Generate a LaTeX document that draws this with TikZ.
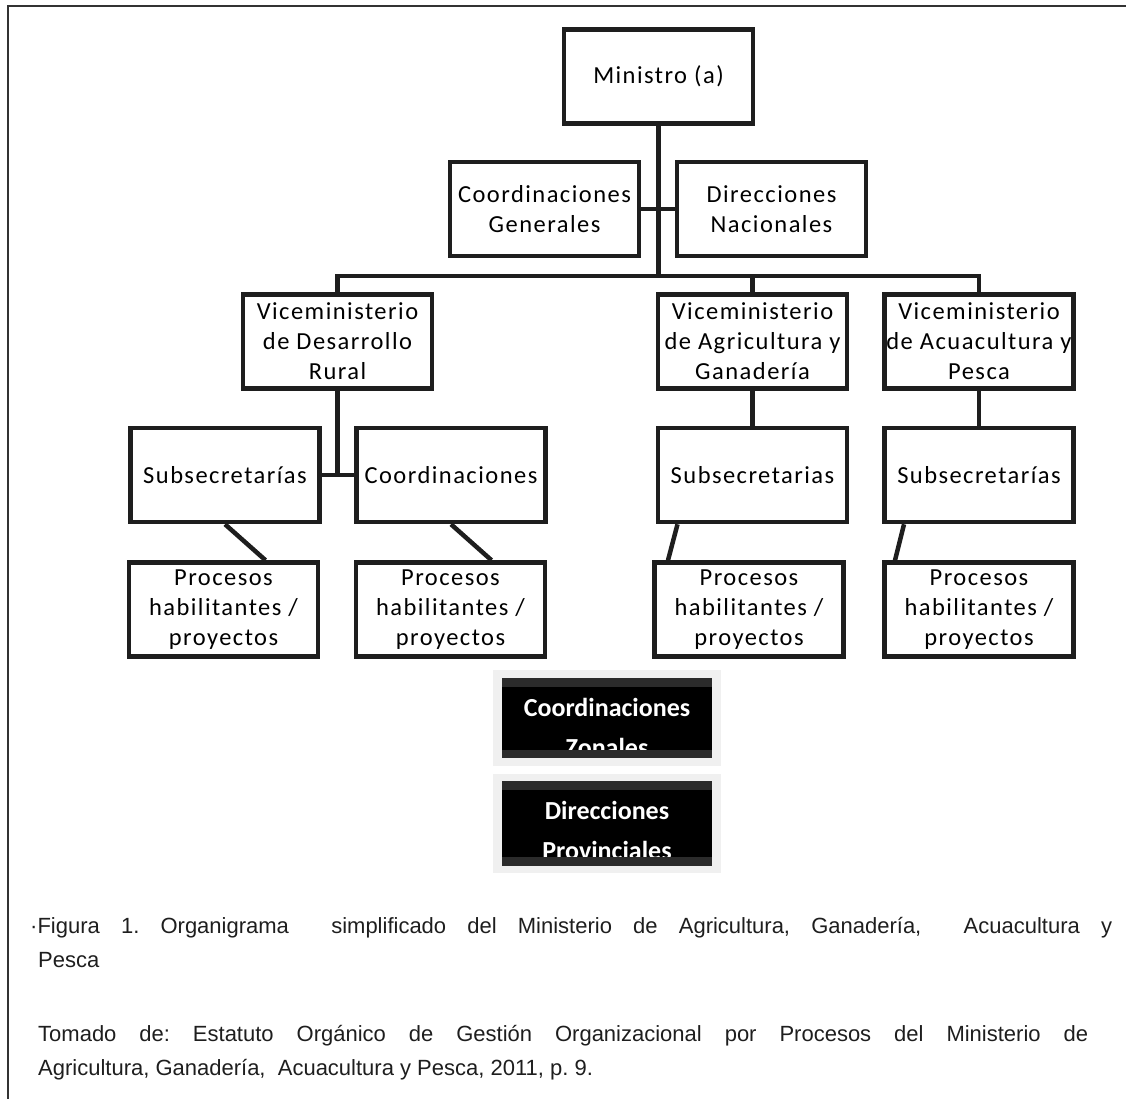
\documentclass[tikz,border=0pt]{standalone}
\usepackage{fontspec}
\setmainfont{Liberation Sans}
\newfontfamily\boxfont[LetterSpace=6]{Carlito}
\newfontfamily\zonefont{Carlito}
\newfontfamily\capfont{Liberation Sans}
\definecolor{ink}{HTML}{1E1E1E}
\definecolor{frameink}{HTML}{333333}
\definecolor{paleframe}{HTML}{F0F0F0}
\definecolor{band}{HTML}{2B2B2B}
\tikzset{
  unit/.style={draw=ink, line width=4.5pt, fill=white, minimum width=189pt,
    minimum height=94pt, inner sep=0pt, align=center,
    font=\boxfont\fontsize{24.5}{30}\selectfont},
  link/.style={draw=ink, line width=4.5pt},
  halo/.style={fill=paleframe, draw=none, minimum width=228pt, inner sep=0pt},
  slab/.style={fill=black, draw=none, minimum width=210pt, inner sep=0pt},
  zonetext/.style={text=white, align=center, inner sep=0pt,
    font=\zonefont\bfseries\fontsize{26}{40}\selectfont},
  captext/.style={anchor=base west, inner sep=0pt,
    font=\capfont\fontsize{22}{26}\selectfont\frenchspacing, text=ink}
}
\begin{document}
\begin{tikzpicture}[x=1pt,y=-1pt]
\useasboundingbox (0,0) rectangle (1126,1099);
% outer frame (open on the right and at the bottom)
\draw[frameink, line width=2.5pt] (1126,6) -- (8,6) -- (8,1099);

% top level
\node[unit] (min) at (658.5,76.5) {Ministro (a)};
\node[unit] (cg) at (544.5,209) {Coordinaciones\\Generales};
\node[unit] (dn) at (771.5,209) {Direcciones\\Nacionales};

% vice-ministries
\node[unit] (v1) at (337.5,341.5) {Viceministerio\\de Desarrollo\\Rural};
\node[unit] (v2) at (752.5,341.5) {Viceministerio\\de Agricultura y\\Ganadería};
\node[unit] (v3) at (979,341.5) {Viceministerio\\de Acuacultura y\\Pesca};

% under-secretariats
\node[unit] (s1) at (225,475) {Subsecretarías};
\node[unit] (c1) at (451,475) {Coordinaciones};
\node[unit] (s2) at (752.5,475) {Subsecretarias};
\node[unit] (s3) at (979,475) {Subsecretarías};

% processes
\node[unit] (p1) at (223.5,609.5) {Procesos\\habilitantes /\\proyectos};
\node[unit] (p2) at (450.5,609.5) {Procesos\\habilitantes /\\proyectos};
\node[unit] (p3) at (749,609.5) {Procesos\\habilitantes /\\proyectos};
\node[unit] (p4) at (979,609.5) {Procesos\\habilitantes /\\proyectos};

% connectors
\coordinate (bus) at (658.5,276);
\draw[link] (min.south) -- (bus);
\draw[link] (cg.east) -- (dn.west);
\draw[link] (v1.north) |- (bus) -| (v3.north);
\draw[link] (v2.north) -- (v2.north |- bus);
\draw[link] (v1.south) |- (s1.east);
\draw[link] (v1.south |- c1.west) -- (c1.west);
\draw[link] (v2.south) -- (s2.north);
\draw[link] (v3.south) -- (s3.north);
\draw[link] (s1.south) -- ([xshift=42pt]p1.north);
\draw[link] (c1.south) -- ([xshift=41pt]p2.north);
\draw[link] ([xshift=-75pt]s2.south) -- ([xshift=-81pt]p3.north);
\draw[link] ([xshift=-75pt]s3.south) -- ([xshift=-84pt]p4.north);

% dark labels
\node[halo, minimum height=96pt] (czh) at (607,718) {};
\node[slab, minimum height=80pt] (czb) at (607,718) {};
\node[zonetext] (czt) at (607,727) {Coordinaciones\\Zonales};
\fill[band] (czb.north west) rectangle ([yshift=-9pt]czb.north east);
\fill[band] ([yshift=8pt]czb.south west) rectangle (czb.south east);

\node[halo, minimum height=99pt] (dph) at (607,823.5) {};
\node[slab, minimum height=85pt] (dpb) at (607,823.5) {};
\node[zonetext] (dpt) at (607,830) {Direcciones\\Provinciales};
\fill[band] (dpb.north west) rectangle ([yshift=-9pt]dpb.north east);
\fill[band] ([yshift=9pt]dpb.south west) rectangle (dpb.south east);

% caption
\node[captext] (cap1) at (30,933) {\makebox[1082pt][s]{·Figura 1. Organigrama\ \ simplificado del Ministerio de Agricultura, Ganadería,\ \ Acuacultura y}};
\node[captext] (cap2) at (38,967) {Pesca};
\node[captext] (cap3) at (38,1041) {\makebox[1050pt][s]{Tomado de: Estatuto Orgánico de Gestión Organizacional por Procesos del Ministerio de}};
\node[captext] (cap4) at (38,1075) {Agricultura, Ganadería,\ \ Acuacultura y Pesca, 2011, p. 9.};
\end{tikzpicture}
\end{document}
